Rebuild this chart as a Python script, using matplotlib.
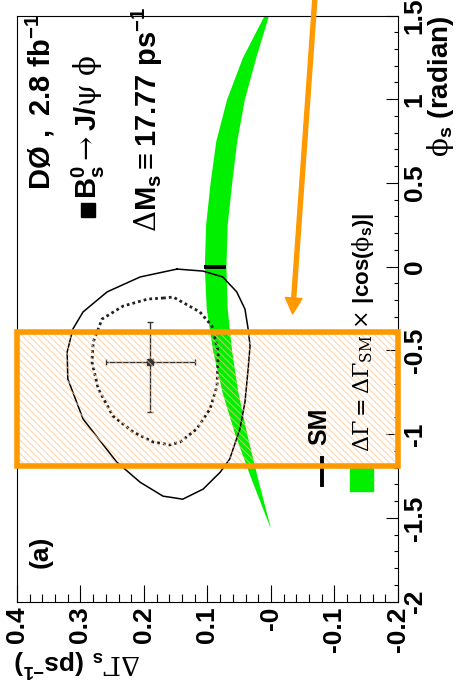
import matplotlib
matplotlib.use("Agg")
import matplotlib.pyplot as plt
from matplotlib.patches import Rectangle
from matplotlib.lines import Line2D
from matplotlib.ticker import MultipleLocator

plt.rcParams['font.family'] = ['Liberation Sans', 'DejaVu Sans']
plt.rcParams['font.weight'] = 'bold'
plt.rcParams['mathtext.fontset'] = 'custom'
plt.rcParams['mathtext.rm'] = 'Liberation Sans:bold'
plt.rcParams['mathtext.bf'] = 'Liberation Sans:bold'
plt.rcParams['mathtext.it'] = 'Liberation Sans:bold'
plt.rcParams['mathtext.sf'] = 'DejaVu Serif:normal'
plt.rcParams['mathtext.default'] = 'rm'
plt.rcParams['hatch.linewidth'] = 0.7

# --- data -------------------------------------------------------------
# theory band dGamma = dGamma_SM * |cos(phi_s)|
band_phi = [-1.55, -1.5, -1.25, -1.0, -0.75, -0.5, -0.25, 0.0,
            0.25, 0.5, 0.75, 1.0, 1.25, 1.5]
band_lo = [0.0015, 0.005, 0.022, 0.038, 0.052, 0.062, 0.069, 0.071,
           0.069, 0.062, 0.054, 0.042, 0.024, 0.004]
band_hi = [0.0022, 0.0074, 0.033, 0.057, 0.077, 0.092, 0.102, 0.105,
           0.103, 0.096, 0.087, 0.070, 0.045, 0.011]

# outer (solid) likelihood contour
outer_dG = [0.148, 0.107, 0.076, 0.054, 0.041, 0.036, 0.033, 0.036, 0.041,
            0.049, 0.065, 0.080, 0.107, 0.139, 0.159, 0.170, 0.206, 0.243,
            0.296, 0.320, 0.321, 0.312, 0.296, 0.258, 0.206, 0.148]
outer_phi = [-0.014, -0.026, -0.061, -0.150, -0.253, -0.372, -0.472, -0.611,
             -0.808, -0.969, -1.148, -1.227, -1.328, -1.388, -1.376, -1.370,
             -1.287, -1.166, -0.909, -0.670, -0.509, -0.372, -0.270, -0.150,
             -0.061, -0.014]

# inner (dotted) likelihood contour
inner_dG = [0.170, 0.154, 0.112, 0.093, 0.083, 0.085, 0.096, 0.117, 0.143,
            0.159, 0.186, 0.217, 0.249, 0.272, 0.282, 0.280, 0.266, 0.233,
            0.194, 0.170]
inner_phi = [-0.187, -0.181, -0.270, -0.354, -0.509, -0.712, -0.849, -0.969,
             -1.046, -1.064, -1.046, -0.987, -0.891, -0.730, -0.569, -0.450,
             -0.312, -0.235, -0.193, -0.187]

# best fit point
fit_dG, fit_dG_err = 0.19, 0.07
fit_phi, fit_phi_up, fit_phi_down = -0.57, 0.24, 0.30

# Standard Model expectation
sm_phi, sm_dG, sm_dG_err = 0.0, 0.088, 0.017

# highlighted phi_s range and arrow
box_phi = [-1.19, -0.39]
arrow_start = (-0.070, 1.65)
arrow_end = (-0.034, -0.282)

dG_ticks = [0.4, 0.3, 0.2, 0.1, 0.0, -0.1, -0.2]
dG_labels = ['0.4', '0.3', '0.2', '0.1', '-0', '-0.1', '-0.2']
phi_ticks = [-2, -1.5, -1, -0.5, 0, 0.5, 1, 1.5]
phi_labels = ['-2', '-1.5', '-1', '-0.5', '0', '0.5', '1', '1.5']

# --- figure -----------------------------------------------------------
W, H = 460, 691
fig = plt.figure(figsize=(W / 100, H / 100), dpi=100)


def fxy(px, py):
    return px / W, 1 - py / H


ax = fig.add_axes([17 / W, 1 - 601.7 / H, (398 - 17) / W, (601.7 - 15.5) / H])
ax.set_xlim(0.4, -0.2)
ax.set_ylim(-2, 1.5)

ax.fill_betweenx(band_phi, band_lo, band_hi, color='#00f000', lw=0, zorder=2)
ax.plot(outer_dG, outer_phi, color='k', lw=1.1, zorder=3)
ax.plot(inner_dG, inner_phi, color='#222222', lw=2.0, ls=(0, (1, 1.1)), zorder=3)
ax.errorbar(fit_dG, fit_phi, xerr=fit_dG_err, yerr=[[fit_phi_down], [fit_phi_up]],
            fmt='s', color='#333333', ms=5, capsize=2.5, elinewidth=1.0,
            capthick=1.0, zorder=4)
ax.errorbar(sm_dG, sm_phi, xerr=sm_dG_err, fmt='none', ecolor='k',
            elinewidth=2.8, capsize=0, zorder=4)

# highlighted range
ax.add_patch(Rectangle((-0.2, box_phi[0]), 0.6, box_phi[1] - box_phi[0],
                       facecolor='none', edgecolor='#ffc58a', hatch='\\\\\\\\\\',
                       lw=0, alpha=0.75, zorder=5))

# legend entries
ax.add_patch(Rectangle(fxy(350, 491), 23 / W, 26 / H, color='#00f000',
                       transform=fig.transFigure, clip_on=False, zorder=5))
ax.add_line(Line2D([322 / W] * 2, [1 - 458 / H, 1 - 485 / H], lw=2.8, color='k',
                   transform=fig.transFigure, clip_on=False, zorder=5))

ax.add_patch(Rectangle((-0.2, box_phi[0]), 0.6, box_phi[1] - box_phi[0],
                       fill=False, edgecolor='#ff9900', lw=4.0, zorder=6,
                       clip_on=False))

ax.annotate('', xy=arrow_end, xytext=arrow_start, annotation_clip=False,
            arrowprops=dict(facecolor='#ff9900', edgecolor='#ff9900', width=2.9,
                            headwidth=12, headlength=11.5, shrink=0),
            zorder=7)

# axes styling
ax.set_xticks(dG_ticks, dG_labels)
ax.set_yticks(phi_ticks, phi_labels)
ax.xaxis.set_minor_locator(MultipleLocator(0.02))
ax.yaxis.set_minor_locator(MultipleLocator(0.1))
ax.yaxis.tick_right()
ax.tick_params(axis='x', which='major', direction='in', length=12, width=0.8,
               labelrotation=90, pad=3.5, labelsize=19)
ax.tick_params(axis='x', which='minor', direction='in', length=6, width=0.8)
ax.tick_params(axis='y', which='major', direction='in', length=8.4, width=0.8,
               labelrotation=90, pad=3.5, labelsize=19)
ax.tick_params(axis='y', which='minor', direction='in', length=3.2, width=0.8)
for lab in ax.get_yticklabels():
    lab.set_va('center')
for s in ax.spines.values():
    s.set_linewidth(0.8)

# texts
fig.text(*fxy(40, 190), r'$\mathrm{D\O\ ,\ 2.8\ fb^{-1}}$', rotation=90,
         ha='center', va='bottom', fontsize=21)
fig.add_artist(Line2D([88 / W], [1 - 210 / H], marker='s', ms=9.5, color='k',
                      transform=fig.transFigure))
fig.text(*fxy(88, 199), r'$\mathrm{B_s^0}\mathsf{\rightarrow}\mathrm{J/}\mathsf{\psi\ \phi}$',
         rotation=90, ha='center', va='bottom', fontsize=21)
fig.text(*fxy(147, 232), r'$\mathsf{\Delta}\mathrm{M_s\equiv 17.77\ ps^{-1}}$',
         rotation=90, ha='center', va='bottom', fontsize=21)
fig.text(*fxy(41, 568), '(a)', rotation=90, ha='center', va='bottom', fontsize=19)
fig.text(*fxy(319, 445), 'SM', rotation=90, ha='center', va='bottom', fontsize=18)
fig.text(*fxy(363, 452),
         r'$\mathsf{\Delta\Gamma = \Delta\Gamma_{SM}}\ \mathsf{\times}\ \mathrm{|cos(}\mathsf{\phi}_{\mathrm{s}}\mathrm{)|}$',
         rotation=90, ha='center', va='bottom', fontsize=16)
fig.text(*fxy(77, 662), r'$\mathsf{\Delta\Gamma}_{\mathrm{s}}\ \mathrm{(ps^{-1})}$',
         rotation=180, ha='center', va='center', fontsize=19)
fig.text(*fxy(441, 157), r'$\mathsf{\phi}_{\mathrm{s}}\ \mathrm{(radian)}$',
         rotation=90, ha='center', va='bottom', fontsize=20)

fig.savefig('out.png', dpi=100)
